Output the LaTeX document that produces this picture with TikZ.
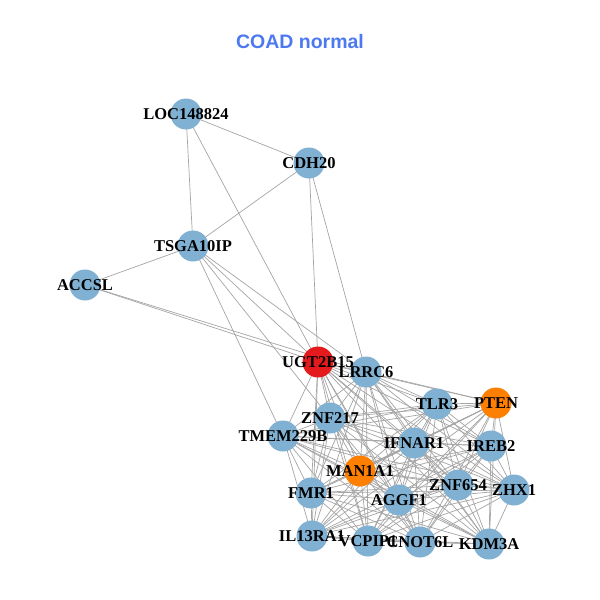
\documentclass[tikz,border=0pt]{standalone}
\usepackage{fontspec}
\setmainfont{Liberation Serif}
\newfontfamily\titlefont{Liberation Sans}
\definecolor{nblue}{RGB}{128,177,211}
\definecolor{nred}{RGB}{228,26,28}
\definecolor{norange}{RGB}{255,127,0}
\definecolor{egray}{RGB}{165,165,165}
\definecolor{tblue}{RGB}{77,121,240}
\tikzset{
  vtx/.style={circle,minimum size=31pt,inner sep=0pt,fill=nblue},
  lbl/.style={font=\fontsize{16.5}{16.5}\selectfont\bfseries,inner sep=0pt},
  edge/.style={draw=egray,line width=0.7pt},
}
\begin{document}
\begin{tikzpicture}[x=1pt,y=-1pt]
\useasboundingbox (0,0) rectangle (600,600);
\fill[white] (0,0) rectangle (600,600);
\node[font=\titlefont\fontsize{19.5}{19.5}\selectfont\bfseries,text=tblue] (title) at (300,42) {COAD normal};
% vertices
\foreach \n/\x/\y in {LOC148824/186/114, CDH20/309/163, TSGA10IP/193/246, ACCSL/85/285,
  UGT2B15/318/362, LRRC6/366/372, TLR3/437/404, PTEN/496/403,
  ZNF217/330/418, TMEM229B/283/436, IFNAR1/414/443, IREB2/491/446,
  MAN1A1/360/471, ZNF654/458/485, ZHX1/514/490, FMR1/311/493,
  AGGF1/399/500, IL13RA1/312/536, VCPIP1/368/541, CNOT6L/420/542, KDM3A/489/544}
  {\coordinate (\n) at (\x,\y);}
% edges
\begin{scope}
\foreach \a/\b in {LOC148824/CDH20, LOC148824/TSGA10IP, LOC148824/UGT2B15, CDH20/TSGA10IP, CDH20/UGT2B15, CDH20/LRRC6,
  TSGA10IP/ACCSL, ACCSL/UGT2B15, ACCSL/LRRC6, TSGA10IP/UGT2B15, TSGA10IP/LRRC6, TSGA10IP/TMEM229B, TSGA10IP/ZNF217}
  {\path[edge] (\a) -- (\b);}
\def\cl{UGT2B15,LRRC6,TLR3,PTEN,ZNF217,TMEM229B,IFNAR1,IREB2,MAN1A1,ZNF654,ZHX1,FMR1,AGGF1,IL13RA1,VCPIP1,CNOT6L,KDM3A}
\foreach \a [count=\i] in \cl {
  \foreach \b [count=\j] in \cl {
    \ifnum\j>\i \path[edge] (\a) -- (\b); \fi
  }
}
\end{scope}
% circles
\foreach \n/\c in {LOC148824/nblue, CDH20/nblue, TSGA10IP/nblue, ACCSL/nblue, UGT2B15/nred, LRRC6/nblue, TLR3/nblue, PTEN/norange,
  ZNF217/nblue, TMEM229B/nblue, IFNAR1/nblue, IREB2/nblue, MAN1A1/norange, ZNF654/nblue, ZHX1/nblue, FMR1/nblue,
  AGGF1/nblue, IL13RA1/nblue, VCPIP1/nblue, CNOT6L/nblue, KDM3A/nblue}
  {\node[vtx,fill=\c] (v-\n) at (\n) {};}
% labels
\foreach \n in {LOC148824, CDH20, TSGA10IP, ACCSL, UGT2B15, LRRC6, TLR3, PTEN, ZNF217, TMEM229B, IFNAR1, IREB2,
  MAN1A1, ZNF654, ZHX1, FMR1, AGGF1, IL13RA1, VCPIP1, CNOT6L, KDM3A}
  {\node[lbl] (l-\n) at (\n) {\n};}
\end{tikzpicture}
\end{document}
